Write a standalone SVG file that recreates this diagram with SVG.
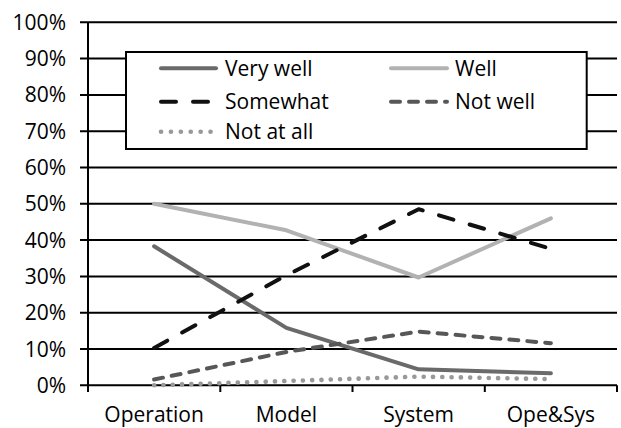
<svg xmlns="http://www.w3.org/2000/svg" width="621" height="428" viewBox="0 0 621 428">
  <style>
    text { font-family: "Open Sans", "Liberation Sans", sans-serif; font-size: 21px; fill: #000; }
    .ylab { text-anchor: end; }
    .xlab { text-anchor: middle; }
    .grid { stroke: #000; stroke-width: 2; fill: none; }
    .s { fill: none; stroke-width: 4; stroke-linejoin: round; stroke-linecap: round; }
    .vwell { stroke: #6a6a6a; }
    .well { stroke: #b2b2b2; }
    .some { stroke: #111; stroke-dasharray: 15 17; }
    .notwell { stroke: #575757; stroke-dasharray: 9 9; }
    .notall { stroke: #999; stroke-width: 4.6; stroke-dasharray: 0.1 9.2; }
  </style>

  <rect width="621" height="428" fill="#fff"/>

  <!-- gridlines and ticks -->
  <g id="grid">
    <path class="grid" d="M80 22.3H617M80 58.6H617M80 94.9H617M80 131.2H617M80 167.5H617M80 203.8H617M80 240.1H617M80 276.4H617M80 312.7H617M80 349H617M80 385.3H617"/>
    <path class="grid" d="M88 22.3V392M220.3 385.3V392M352.5 385.3V392M484.8 385.3V392M617 385.3V392"/>
  </g>

  <!-- axis labels -->
  <g id="y-axis">
    <text class="ylab" x="66" y="29.8">100%</text>
    <text class="ylab" x="66" y="66.1">90%</text>
    <text class="ylab" x="66" y="102.4">80%</text>
    <text class="ylab" x="66" y="138.7">70%</text>
    <text class="ylab" x="66" y="175">60%</text>
    <text class="ylab" x="66" y="211.3">50%</text>
    <text class="ylab" x="66" y="247.6">40%</text>
    <text class="ylab" x="66" y="283.9">30%</text>
    <text class="ylab" x="66" y="320.2">20%</text>
    <text class="ylab" x="66" y="356.5">10%</text>
    <text class="ylab" x="66" y="392.8">0%</text>
  </g>
  <g id="x-axis">
    <text class="xlab" x="154.1" y="421.5">Operation</text>
    <text class="xlab" x="286.4" y="421.5">Model</text>
    <text class="xlab" x="418.6" y="421.5">System</text>
    <text class="xlab" x="550.9" y="421.5">Ope&amp;Sys</text>
  </g>

  <!-- legend -->
  <g id="legend">
    <rect x="126" y="52" width="460.7" height="97" fill="#fff" stroke="#000" stroke-width="2"/>
    <line class="s vwell" x1="161" y1="68.3" x2="216" y2="68.3"/>
    <text x="225" y="75.8">Very well</text>
    <line class="s well" x1="391" y1="68.3" x2="447" y2="68.3"/>
    <text x="455" y="75.8">Well</text>
    <line class="s some" x1="161" y1="101.7" x2="216" y2="101.7"/>
    <text x="225" y="109.2">Somewhat</text>
    <line class="s notwell" x1="391" y1="101.7" x2="447" y2="101.7"/>
    <text x="455" y="109.2">Not well</text>
    <line class="s notall" x1="161" y1="131.7" x2="211" y2="131.7" style="stroke-dasharray:0.1 9.8"/>
    <text x="225" y="139.2">Not at all</text>
  </g>

  <!-- data series -->
  <g id="series">
    <polyline id="very-well" class="s vwell" points="154.1,246.3 286.4,327.9 418.6,369.3 550.9,373.3"/>
    <polyline id="well" class="s well" points="154.1,203.8 286.4,230.3 418.6,277.5 550.9,218.3"/>
    <polyline id="somewhat" class="s some" points="154.1,347.9 286.4,275.3 418.6,209.2 550.9,248.8"/>
    <polyline id="not-well" class="s notwell" points="154.1,379.5 286.4,351.9 418.6,331.6 550.9,343.2"/>
    <polyline id="not-at-all" class="s notall" points="154.1,385.3 286.4,381 418.6,376.6 550.9,379.1"/>
  </g>
</svg>
